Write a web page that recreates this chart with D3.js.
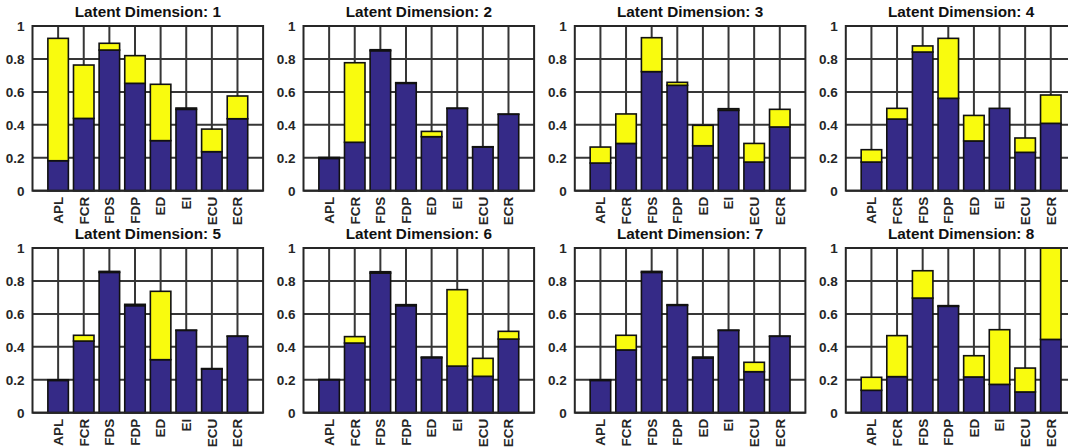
<!DOCTYPE html>
<html>
<head>
<meta charset="utf-8">
<script src="https://cdn.jsdelivr.net/npm/d3@7"></script>
<style>
  body { margin: 0; background: #fff; }
  svg { display: block; font-family: "Liberation Sans", Arial, sans-serif; }
</style>
</head>
<body>
<svg id="chart" width="1068" height="447"></svg>
<script>
const categories = ['APL', 'FCR', 'FDS', 'FDP', 'ED', 'EI', 'ECU', 'ECR'];
const yTicks = [0, 0.2, 0.4, 0.6, 0.8, 1];

// lower (blue) part of each stacked bar, one row per latent dimension
const baseVals = [
  [0.182, 0.439, 0.854, 0.652, 0.304, 0.494, 0.237, 0.437],
  [0.196, 0.294, 0.850, 0.652, 0.328, 0.500, 0.265, 0.464],
  [0.168, 0.287, 0.723, 0.640, 0.273, 0.488, 0.174, 0.387],
  [0.174, 0.435, 0.842, 0.561, 0.302, 0.500, 0.233, 0.409],
  [0.196, 0.435, 0.852, 0.650, 0.322, 0.500, 0.265, 0.464],
  [0.200, 0.423, 0.848, 0.650, 0.334, 0.283, 0.221, 0.447],
  [0.196, 0.381, 0.852, 0.652, 0.332, 0.500, 0.249, 0.464],
  [0.136, 0.219, 0.696, 0.646, 0.217, 0.172, 0.126, 0.445]
];
// upper (yellow) part stacked on top
const extraVals = [
  [0.743, 0.324, 0.041, 0.168, 0.342, 0.008, 0.137, 0.138],
  [0.006, 0.483, 0.006, 0.004, 0.032, 0.001, 0.002, 0.001],
  [0.097, 0.179, 0.206, 0.018, 0.124, 0.010, 0.113, 0.107],
  [0.075, 0.065, 0.037, 0.364, 0.155, 0.000, 0.087, 0.172],
  [0.004, 0.035, 0.006, 0.008, 0.415, 0.001, 0.003, 0.001],
  [0.001, 0.039, 0.008, 0.006, 0.004, 0.464, 0.109, 0.047],
  [0.004, 0.089, 0.006, 0.004, 0.006, 0.001, 0.057, 0.001],
  [0.079, 0.249, 0.166, 0.004, 0.129, 0.332, 0.145, 0.555]
];

const blue = '#352a87';
const yellow = '#f9fb0e';
const ink = '#262626';

const svg = d3.select('#chart');

// panel geometry
const plotW = 230.6, plotH = 164.7;
const lefts = [32.5, 303.5, 574.8, 845.8];
const tops = [26, 248];

baseVals.forEach(function(base, d) {
  const col = d % 4, row = Math.floor(d / 4);
  const g = svg.append('g')
    .attr('transform', 'translate(' + lefts[col] + ',' + tops[row] + ')');

  const x = d3.scaleLinear().domain([0, 9]).range([0, plotW]);
  const y = d3.scaleLinear().domain([0, 1]).range([plotH, 0]);

  // grid
  g.selectAll('.hgrid').data(yTicks).enter().append('line')
    .attr('x1', 0).attr('x2', plotW)
    .attr('y1', v => y(v)).attr('y2', v => y(v))
    .attr('stroke', '#363636').attr('stroke-width', 2);
  g.selectAll('.vgrid').data(categories).enter().append('line')
    .attr('x1', (c, i) => x(i + 1)).attr('x2', (c, i) => x(i + 1))
    .attr('y1', 0).attr('y2', plotH)
    .attr('stroke', '#363636').attr('stroke-width', 2);

  // stacked bars
  const rows = categories.map((c, i) => ({ cat: c, i: i, base: base[i], extra: extraVals[d][i] }));
  const stack = d3.stack().keys(['base', 'extra'])(rows);
  const colors = [blue, yellow];
  const bw = 0.8;

  stack.forEach(function(layer, k) {
    g.selectAll('.bar' + k).data(layer).enter().append('rect')
      .attr('x', s => x(s.data.i + 1 - bw / 2))
      .attr('width', x(bw) - x(0))
      .attr('y', s => y(s[1]))
      .attr('height', s => y(s[0]) - y(s[1]))
      .attr('fill', colors[k])
      .attr('stroke', '#111')
      .attr('stroke-width', 1.6);
  });

  // axes box
  g.append('rect')
    .attr('x', 0).attr('y', 0).attr('width', plotW).attr('height', plotH)
    .attr('fill', 'none').attr('stroke', ink).attr('stroke-width', 2);

  // y tick labels
  g.selectAll('.ylab').data(yTicks).enter().append('text')
    .attr('x', -8).attr('y', v => y(v))
    .attr('dy', '0.36em')
    .attr('text-anchor', 'end')
    .attr('font-size', 13.5).attr('font-weight', 'bold')
    .attr('fill', ink)
    .text(v => d3.format('~g')(v));

  // x tick labels, rotated
  g.selectAll('.xlab').data(categories).enter().append('text')
    .attr('transform', (c, i) => 'translate(' + x(i + 1) + ',' + (plotH + 6) + ') rotate(-90)')
    .attr('dy', '0.36em')
    .attr('text-anchor', 'end')
    .attr('font-size', 13.5).attr('font-weight', 'bold')
    .attr('fill', ink)
    .text(c => c);

  // title
  g.append('text')
    .attr('x', plotW / 2).attr('y', -9)
    .attr('text-anchor', 'middle')
    .attr('font-size', 15.3).attr('font-weight', 'bold')
    .attr('fill', '#111')
    .text('Latent Dimension: ' + (d + 1));
});
</script>
</body>
</html>
